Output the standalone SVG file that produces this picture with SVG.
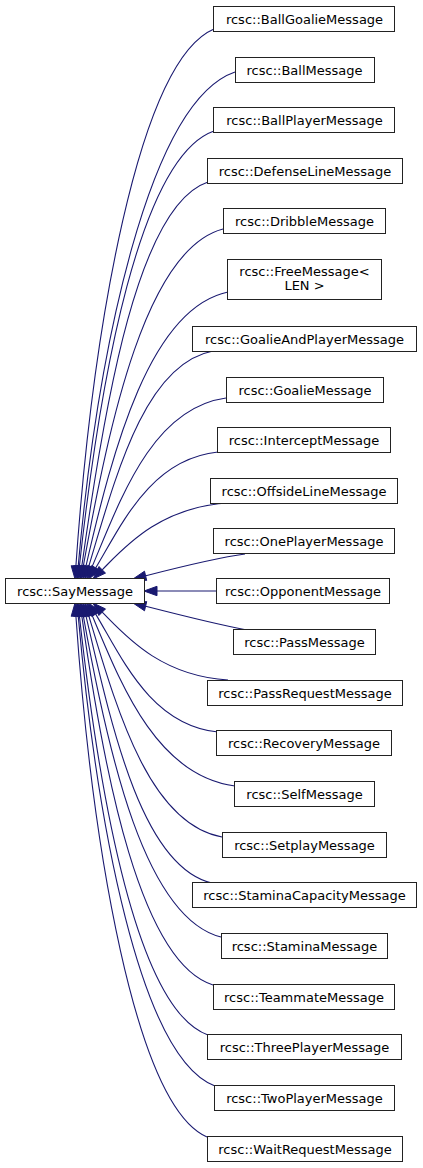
<svg xmlns="http://www.w3.org/2000/svg" width="423" height="1168" viewBox="0 0 423 1168">
<style>
.box{fill:#ffffff;stroke:#222222;stroke-width:1}
.lbl{font-family:"DejaVu Sans",sans-serif;font-size:13px;fill:#000000;text-anchor:middle}
.edge{fill:none;stroke:#191970;stroke-width:1.1}
.head{fill:#191970;stroke:#191970;stroke-width:1}
</style>
<rect width="423" height="1168" fill="#ffffff"/>
<g id="connectors">
<path class="edge" d="M75.9,566 C92.4,330.3 138,61.2 214,29"/>
<polygon class="head" points="80.6,566.3 75,579 71.2,565.7"/>
<path class="edge" d="M78.2,566.1 C97.7,349.6 148.8,101.6 235,72"/>
<polygon class="head" points="82.9,566.5 77,579 73.5,565.7"/>
<path class="edge" d="M79.4,566.1 C100.3,375.8 140,157.1 214,131"/>
<polygon class="head" points="84.1,566.6 78,579 74.7,565.6"/>
<path class="edge" d="M81.8,566.1 C105.2,398.7 138.6,205 208,182"/>
<polygon class="head" points="86.5,566.8 80,579 77.2,565.5"/>
<path class="edge" d="M83.3,566.2 C109.6,420.2 146.2,249.2 223,229"/>
<polygon class="head" points="87.9,567 81,579 78.7,565.4"/>
<path class="edge" d="M85.9,566.3 C112.9,448.7 149.8,308.5 228,292"/>
<polygon class="head" points="90.5,567.4 83,579 81.3,565.3"/>
<path class="edge" d="M88.7,566.5 C115.9,475.7 144.6,363.9 213,351"/>
<polygon class="head" points="93.2,567.9 85,579 84.2,565.2"/>
<path class="edge" d="M92,567 C120.8,498.4 152.3,408.1 226,398"/>
<polygon class="head" points="96.3,568.8 87,579 87.7,565.2"/>
<path class="edge" d="M95.7,567.9 C121.9,524.2 150.7,459 218,452"/>
<polygon class="head" points="99.7,570.3 89,579 91.7,565.5"/>
<path class="edge" d="M102.2,569.8 C123,549 158.8,507 228,503"/>
<polygon class="head" points="105.5,573.1 93,579 98.9,566.5"/>
<path class="edge" d="M145.6,575.8 C180,567 215,558 245,554"/>
<polygon class="head" points="146.7,580.4 133,579 144.5,571.2"/>
<path class="edge" d="M157,591 L216,591"/>
<polygon class="head" points="157,595.7 144,591 157,586.3"/>
<path class="edge" d="M145.6,606.2 C180,615 215,624 247,630"/>
<polygon class="head" points="144.5,610.8 133,603 146.7,601.6"/>
<path class="edge" d="M102.2,612.2 C123.3,633.3 158.8,675.9 228,680"/>
<polygon class="head" points="98.9,615.5 93,603 105.5,608.9"/>
<path class="edge" d="M95.7,614.1 C122.4,658.6 150.7,724.9 218,732"/>
<polygon class="head" points="91.7,616.5 89,603 99.7,611.7"/>
<path class="edge" d="M92,615 C121.1,684.3 156.3,775.7 235,786"/>
<polygon class="head" points="87.7,616.8 87,603 96.3,613.2"/>
<path class="edge" d="M88.7,615.5 C116.7,708.9 148.7,823.7 222,837"/>
<polygon class="head" points="84.2,616.9 85,603 93.2,614.2"/>
<path class="edge" d="M85.9,615.7 C112.3,730.3 142.6,867 212,883"/>
<polygon class="head" points="81.3,616.8 83,603 90.5,614.7"/>
<path class="edge" d="M83.3,615.8 C108.3,754.9 144.8,917.7 221,937"/>
<polygon class="head" points="78.7,616.6 81,603 87.9,615"/>
<path class="edge" d="M81.8,615.9 C104.3,776.7 140.8,962.9 213,985"/>
<polygon class="head" points="77.2,616.6 80,603 86.5,615.3"/>
<path class="edge" d="M79.4,615.9 C99.6,799.2 137.3,1009.9 208,1035"/>
<polygon class="head" points="74.7,616.4 78,603 84.1,615.4"/>
<path class="edge" d="M78.2,615.9 C96.7,821.9 139.8,1057.8 215,1086"/>
<polygon class="head" points="73.5,616.3 77,603 82.9,615.5"/>
<path class="edge" d="M75.9,616 C91.9,844.7 134.9,1105.7 207,1137"/>
<polygon class="head" points="71.2,616.3 75,603 80.6,615.7"/>
</g>
<g id="node-SayMessage"><rect class="box" x="5.5" y="578.5" width="139" height="25"/><text class="lbl" x="75" y="595.5">rcsc::SayMessage</text></g>
<g id="node-BallGoalieMessage"><rect class="box" x="213.5" y="6.5" width="181" height="25"/><text class="lbl" x="304.5" y="23.5">rcsc::BallGoalieMessage</text></g>
<g id="node-BallMessage"><rect class="box" x="235.5" y="57.5" width="139" height="25"/><text class="lbl" x="304.5" y="74.5">rcsc::BallMessage</text></g>
<g id="node-BallPlayerMessage"><rect class="box" x="213.5" y="107.5" width="181" height="25"/><text class="lbl" x="304.5" y="124.5">rcsc::BallPlayerMessage</text></g>
<g id="node-DefenseLineMessage"><rect class="box" x="207.5" y="158.5" width="195" height="25"/><text class="lbl" x="305" y="175.5">rcsc::DefenseLineMessage</text></g>
<g id="node-DribbleMessage"><rect class="box" x="223.5" y="208.5" width="162" height="25"/><text class="lbl" x="304.5" y="225.5">rcsc::DribbleMessage</text></g>
<g id="node-FreeMessage"><rect class="box" x="227.5" y="259.5" width="154" height="40"/><text class="lbl" x="304.5" y="276">rcsc::FreeMessage&lt;</text><text class="lbl" x="304.5" y="290">LEN &gt;</text></g>
<g id="node-GoalieAndPlayerMessage"><rect class="box" x="192.5" y="326.5" width="224" height="25"/><text class="lbl" x="304.5" y="343.5">rcsc::GoalieAndPlayerMessage</text></g>
<g id="node-GoalieMessage"><rect class="box" x="226.5" y="377.5" width="157" height="25"/><text class="lbl" x="305" y="394.5">rcsc::GoalieMessage</text></g>
<g id="node-InterceptMessage"><rect class="box" x="217.5" y="427.5" width="173" height="25"/><text class="lbl" x="304" y="444.5">rcsc::InterceptMessage</text></g>
<g id="node-OffsideLineMessage"><rect class="box" x="210.5" y="478.5" width="187" height="25"/><text class="lbl" x="304" y="495.5">rcsc::OffsideLineMessage</text></g>
<g id="node-OnePlayerMessage"><rect class="box" x="213.5" y="528.5" width="181" height="25"/><text class="lbl" x="304" y="545.5">rcsc::OnePlayerMessage</text></g>
<g id="node-OpponentMessage"><rect class="box" x="216.5" y="578.5" width="173" height="25"/><text class="lbl" x="303" y="595.5">rcsc::OpponentMessage</text></g>
<g id="node-PassMessage"><rect class="box" x="233.5" y="629.5" width="142" height="25"/><text class="lbl" x="304.5" y="646.5">rcsc::PassMessage</text></g>
<g id="node-PassRequestMessage"><rect class="box" x="207.5" y="680.5" width="195" height="25"/><text class="lbl" x="305" y="697.5">rcsc::PassRequestMessage</text></g>
<g id="node-RecoveryMessage"><rect class="box" x="216.5" y="730.5" width="175" height="25"/><text class="lbl" x="304" y="747.5">rcsc::RecoveryMessage</text></g>
<g id="node-SelfMessage"><rect class="box" x="234.5" y="781.5" width="140" height="25"/><text class="lbl" x="304.5" y="798.5">rcsc::SelfMessage</text></g>
<g id="node-SetplayMessage"><rect class="box" x="222.5" y="832.5" width="164" height="25"/><text class="lbl" x="304.5" y="849.5">rcsc::SetplayMessage</text></g>
<g id="node-StaminaCapacityMessage"><rect class="box" x="192.5" y="882.5" width="224" height="25"/><text class="lbl" x="304.5" y="899.5">rcsc::StaminaCapacityMessage</text></g>
<g id="node-StaminaMessage"><rect class="box" x="221.5" y="933.5" width="166" height="25"/><text class="lbl" x="304.5" y="950.5">rcsc::StaminaMessage</text></g>
<g id="node-TeammateMessage"><rect class="box" x="213.5" y="984.5" width="181" height="25"/><text class="lbl" x="304" y="1001.5">rcsc::TeammateMessage</text></g>
<g id="node-ThreePlayerMessage"><rect class="box" x="207.5" y="1034.5" width="194" height="25"/><text class="lbl" x="304.5" y="1051.5">rcsc::ThreePlayerMessage</text></g>
<g id="node-TwoPlayerMessage"><rect class="box" x="214.5" y="1085.5" width="180" height="25"/><text class="lbl" x="304.5" y="1102.5">rcsc::TwoPlayerMessage</text></g>
<g id="node-WaitRequestMessage"><rect class="box" x="207.5" y="1136.5" width="195" height="25"/><text class="lbl" x="305" y="1153.5">rcsc::WaitRequestMessage</text></g>
</svg>
